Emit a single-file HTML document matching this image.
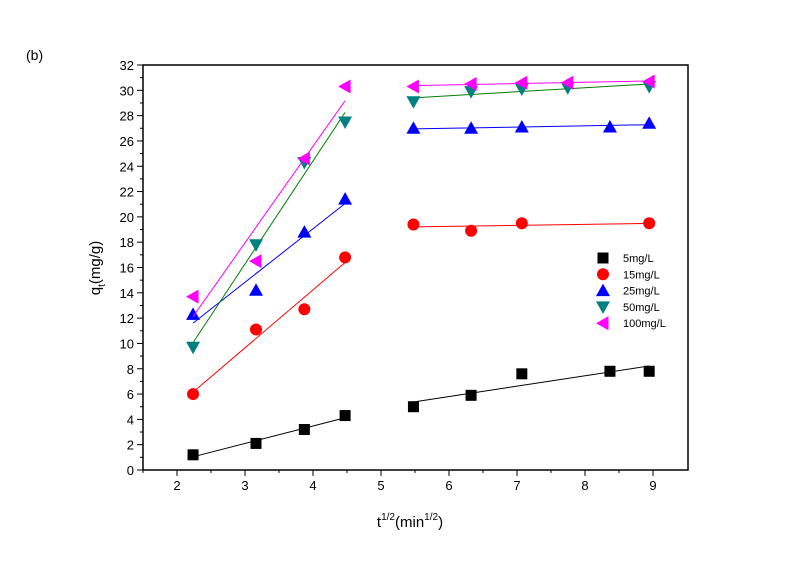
<!DOCTYPE html>
<html><head><meta charset="utf-8"><style>
body{margin:0;background:#fff;width:800px;height:564px;overflow:hidden}
svg text{font-family:"Liberation Sans",Arial,sans-serif}
</style></head><body>
<svg id="c" width="800" height="564" xmlns="http://www.w3.org/2000/svg"></svg>
<script>
const xsA=[2.236,3.162,3.873,4.472];
const xsBlack=[5.477,6.325,7.071,8.367,8.944];
const xsRed=[5.477,6.325,7.071,8.944];
const xsBlue=[5.477,6.325,7.071,8.367,8.944];
const xsGreen=[5.477,6.325,7.071,7.746,8.944];
const blackVals=[1.2,2.1,3.2,4.3,5.0,5.9,7.6,7.8,7.8];
const redVals=[6.0,11.1,12.7,16.8,19.4,18.9,19.5,19.5];
const blueVals=[12.3,14.2,18.8,21.4,27.0,27.0,27.1,27.1,27.4];
const greenVals=[9.7,17.8,24.3,27.5,29.1,29.9,30.1,30.2,30.3];
const magentaVals=[13.7,16.5,24.6,30.3,30.3,30.5,30.6,30.6,30.7];
const seriesNames=["5mg/L","15mg/L","25mg/L","50mg/L","100mg/L"];
const xTicks=[2,3,4,5,6,7,8,9];
const yTicks=[0,2,4,6,8,10,12,14,16,18,20,22,24,26,28,30,32];

const L=143,R=688,T=65,B=470;
const X=v=>177+(v-2)*68;
const Y=v=>B-(v/32)*(B-T);
const svg=document.getElementById('c');
const NS='http://www.w3.org/2000/svg';
function mk(tag,attrs,parent){const e=document.createElementNS(NS,tag);for(const k in attrs)e.setAttribute(k,attrs[k]);(parent||svg).appendChild(e);return e;}

let t=mk('text',{x:26,y:60,'font-size':14});t.textContent='(b)';



const frame=mk('rect',{x:L,y:T,width:R-L,height:B-T,fill:'none',stroke:'#000','stroke-width':1.5});



xTicks.forEach(v=>{
  mk('line',{x1:X(v),x2:X(v),y1:B,y2:B+6,stroke:'#000'});
  if(v<9)mk('line',{x1:X(v+0.5),x2:X(v+0.5),y1:B,y2:B+3,stroke:'#000'});
  const tx=mk('text',{x:X(v),y:B+20,'font-size':13,'text-anchor':'middle'});tx.textContent=v;
  
  
});
mk('line',{x1:X(1.5),x2:X(1.5),y1:B,y2:B+3,stroke:'#000'});
yTicks.forEach(v=>{
  mk('line',{x1:L-6,x2:L,y1:Y(v),y2:Y(v),stroke:'#000'});
  if(v<32)mk('line',{x1:L-3,x2:L,y1:Y(v+1),y2:Y(v+1),stroke:'#000'});
  const ty=mk('text',{x:L-9,y:Y(v)+5,'font-size':13,'text-anchor':'end'});ty.textContent=v;
  
  
});
const xt=mk('text',{x:410,y:527,'font-size':15,'text-anchor':'middle'});
xt.innerHTML='t<tspan font-size="10" dy="-7">1/2</tspan><tspan dy="7">(min</tspan><tspan font-size="10" dy="-7">1/2</tspan><tspan dy="7">)</tspan>';


const yt=mk('text',{x:0,y:0,'font-size':15,'text-anchor':'middle',transform:'translate(100,268) rotate(-90)'});
yt.innerHTML='q<tspan font-size="10" dy="5">t</tspan><tspan dy="-5">(mg/g)</tspan>';



const colors=['#000000','#ff0000','#0000ff','#008080','#ff00ff'];
const lineColors=['#000000','#ff0000','#0000ff','#008000','#ff00ff'];
const shapes=['sq','ci','up','dn','lt'];
const allVals=[blackVals,redVals,blueVals,greenVals,magentaVals];
const rightXs=[xsBlack,xsRed,xsBlue,xsGreen,xsGreen];
function marker(shape,cx,cy,col,name){
  let e;
  if(shape==='sq')e=mk('rect',{x:cx-5.5,y:cy-5.5,width:11,height:11,fill:col});
  else if(shape==='ci')e=mk('circle',{cx,cy,r:6,fill:col});
  else if(shape==='up')e=mk('polygon',{points:`${cx},${cy-7} ${cx-7},${cy+5.5} ${cx+7},${cy+5.5}`,fill:col});
  else if(shape==='dn')e=mk('polygon',{points:`${cx},${cy+7} ${cx-7},${cy-5.5} ${cx+7},${cy-5.5}`,fill:col});
  else e=mk('polygon',{points:`${cx-7},${cy} ${cx+5.5},${cy-7} ${cx+5.5},${cy+7}`,fill:col});
  
  
}
function fit(xs,ys){const n=xs.length;let sx=0,sy=0,sxx=0,sxy=0;for(let i=0;i<n;i++){sx+=xs[i];sy+=ys[i];sxx+=xs[i]*xs[i];sxy+=xs[i]*ys[i];}const m=(n*sxy-sx*sy)/(n*sxx-sx*sx);return [m,(sy-m*sx)/n];}
allVals.forEach((vals,s)=>{
  const xsR=rightXs[s];
  const xs=xsA.concat(xsR);
  const segs=[[xsA,vals.slice(0,4)],[xsR,vals.slice(4)]];
  segs.forEach(([sx,sy],k)=>{
    const [m,b]=fit(sx,sy);
    const x0=sx[0],x1=sx[sx.length-1];
    const ln=mk('line',{x1:X(x0),y1:Y(m*x0+b),x2:X(x1),y2:Y(m*x1+b),stroke:lineColors[s],'stroke-width':1});
    
    
  });
  xs.forEach((xv,i)=>marker(shapes[s],X(xv),Y(vals[i]),colors[s],'point-'+seriesNames[s].replace('/','-').toLowerCase()));
});
seriesNames.forEach((nm,s)=>{
  const cy=258+s*16.3;
  marker(shapes[s],603,cy,colors[s],'legend-marker');
  const lt=mk('text',{x:623,y:cy+4,'font-size':11});lt.textContent=nm;
  
  
});
</script>
</body></html>
